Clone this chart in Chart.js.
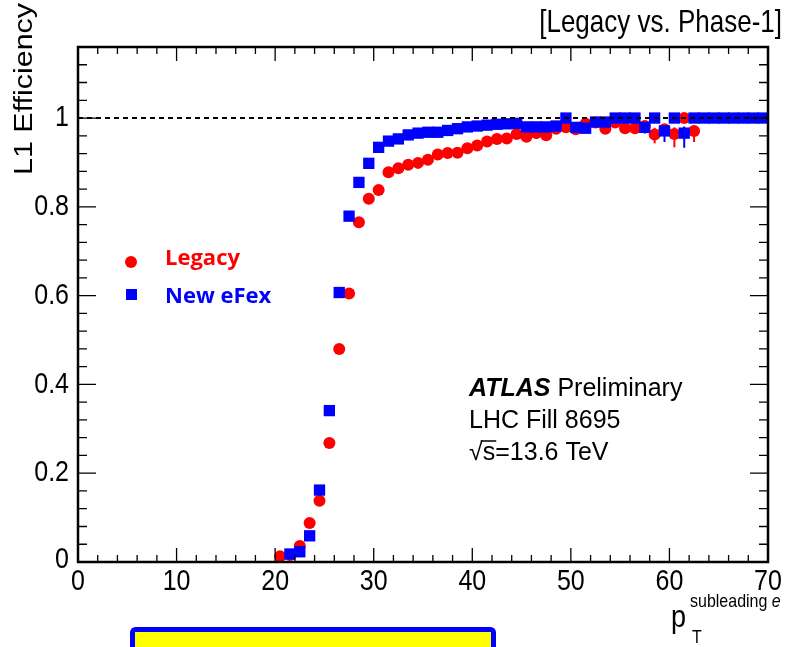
<!DOCTYPE html>
<html><head><meta charset="utf-8">
<script src="https://cdn.jsdelivr.net/npm/chart.js@4/dist/chart.umd.min.js"></script>
<style>html,body{margin:0;padding:0;background:#fff;}#wrap{width:787px;height:647px;}</style>
</head><body><div id="wrap"><canvas id="c" width="787" height="647" style="width:787px;height:647px"></canvas></div>
<script>
// ---- data ----
const legacyX = [20.5,21.5,22.5,23.5,24.5,25.5,26.5,27.5,28.5,29.5,30.5,31.5,32.5,33.5,34.5,35.5,36.5,37.5,38.5,39.5,40.5,41.5,42.5,43.5,44.5,45.5,46.5,47.5,48.5,49.5,50.5,51.5,52.5,53.5,54.5,55.5,56.5,57.5,58.5,59.5,60.5,61.5,62.5];
const legacyY = [0.013,0.016,0.036,0.088,0.138,0.268,0.480,0.605,0.765,0.818,0.838,0.878,0.887,0.895,0.899,0.906,0.918,0.921,0.922,0.932,0.938,0.947,0.953,0.954,0.964,0.958,0.966,0.961,0.976,0.979,0.975,0.987,0.990,0.976,0.990,0.977,0.977,0.982,0.963,0.975,0.964,1.000,0.971];
const legacyErrLo = [0,0,0,0,0,0,0,0,0,0,0,0,0,0,0,0,0,0,0,0,0,0,0,0,0,0,0,0,0,0,0,0,0,0,0,0,0,0,0.020,0,0.030,0,0.025];
const legacyErrHi = [0,0,0,0,0,0,0,0,0,0,0,0,0,0,0,0,0,0,0,0,0,0,0,0,0,0,0,0,0,0,0,0,0,0,0,0,0,0,0.015,0,0.015,0,0.012];
const efexX = [21.5,22.5,23.5,24.5,25.5,26.5,27.5,28.5,29.5,30.5,31.5,32.5,33.5,34.5,35.5,36.5,37.5,38.5,39.5,40.5,41.5,42.5,43.5,44.5,45.5,46.5,47.5,48.5,49.5,50.5,51.5,52.5,53.5,54.5,55.5,56.5,57.5,58.5,59.5,60.5,61.5,62.5,63.5,64.5,65.5,66.5,67.5,68.5,69.5];
const efexY = [0.018,0.023,0.059,0.162,0.341,0.607,0.779,0.855,0.898,0.934,0.948,0.953,0.962,0.966,0.968,0.968,0.972,0.976,0.980,0.982,0.984,0.986,0.987,0.988,0.980,0.980,0.980,0.982,1.000,0.979,0.977,0.991,0.991,1.000,1.000,1.000,0.979,1.000,0.971,1.000,0.966,1.000,1.000,1.000,1.000,1.000,1.000,1.000,1.000];
const efexErrLo = [0,0,0,0,0,0.006,0,0,0,0,0,0,0,0,0,0,0,0,0,0,0,0,0,0,0,0,0,0,0,0,0,0,0,0,0,0,0.014,0,0.025,0,0.033,0,0,0,0,0,0,0,0];
const efexErrHi = [0,0,0,0,0,0.006,0,0,0,0,0,0,0,0,0,0,0,0,0,0,0,0,0,0,0,0,0,0,0,0,0,0,0,0,0,0,0.010,0,0.012,0,0.015,0,0,0,0,0,0,0,0];
const xTickValues = [0,10,20,30,40,50,60,70];
const xTickLabels = ['0','10','20','30','40','50','60','70'];
const yTickValues = [0,0.2,0.4,0.6,0.8,1.0];
const yTickLabels = ['0','0.2','0.4','0.6','0.8','1'];
const seriesNames = ['Legacy','New eFex'];
const refLine = 1.0;

const FONT = '"Liberation Sans", Arial, Helvetica, sans-serif';
const RED = '#ff0000', BLUE = '#0000ff';
const VS = 1.2; // vertical stretch of the axis text in the reference

function pts(xs, ys){ return xs.map((v,i)=>({x:v,y:ys[i]})); }

function stretchText(ctx, txt, x, y, sy){
  ctx.save(); ctx.translate(x,y); ctx.scale(1,sy); ctx.fillText(txt,0,0); ctx.restore();
}

function drawErr(ctx, sx, sy, xs, ys, lo, hi, col){
  ctx.save(); ctx.strokeStyle=col; ctx.lineWidth=2;
  xs.forEach((v,i)=>{
    if(!lo[i] && !hi[i]) return;
    const px=sx.getPixelForValue(v);
    ctx.beginPath();
    ctx.moveTo(px, sy.getPixelForValue(ys[i]-lo[i]));
    ctx.lineTo(px, sy.getPixelForValue(ys[i]+hi[i]));
    ctx.stroke();
  });
  ctx.restore();
}

const deco = {
  id:'deco',
  beforeDatasetsDraw(chart){
    const {ctx, scales:{x,y}} = chart;
    drawErr(ctx,x,y,legacyX,legacyY,legacyErrLo,legacyErrHi,RED);
    drawErr(ctx,x,y,efexX,efexY,efexErrLo,efexErrHi,BLUE);
  },
  afterDatasetsDraw(chart){
    const {ctx, chartArea:a, scales:{x,y}} = chart;
    ctx.save();
    // dashed reference line
    ctx.strokeStyle='#000'; ctx.lineWidth=2; ctx.setLineDash([5,4]);
    const py=y.getPixelForValue(refLine);
    ctx.beginPath(); ctx.moveTo(a.left,py); ctx.lineTo(a.right,py); ctx.stroke();
    ctx.setLineDash([]);
    // ticks
    ctx.lineWidth=1.3;
    ctx.beginPath();
    for(let v=0; v<=70+1e-9; v+=2){
      const px=x.getPixelForValue(v);
      const major = Math.abs(v%10)<1e-9;
      const L = major?14:7;
      ctx.moveTo(px,a.bottom); ctx.lineTo(px,a.bottom-L);
      ctx.moveTo(px,a.top); ctx.lineTo(px,a.top+L);
    }
    for(let k=0; k<=29; k++){
      const v=k*0.04; if(v>1.16) break;
      const p=y.getPixelForValue(v);
      const major = k%5===0;
      const L = major?18:9;
      ctx.moveTo(a.left,p); ctx.lineTo(a.left+L,p);
      ctx.moveTo(a.right,p); ctx.lineTo(a.right-L,p);
    }
    ctx.stroke();
    // frame
    ctx.lineWidth=2.5;
    ctx.strokeRect(a.left,a.top,a.right-a.left,a.bottom-a.top);
    // tick labels
    ctx.fillStyle='#000';
    ctx.font='25px '+FONT;
    ctx.textAlign='center'; ctx.textBaseline='middle';
    xTickValues.forEach((v,i)=>stretchText(ctx, xTickLabels[i], x.getPixelForValue(v), a.bottom+20, VS));
    ctx.textAlign='right';
    yTickValues.forEach((v,i)=>stretchText(ctx, yTickLabels[i], a.left-9, y.getPixelForValue(v)-(v===0?2:0), VS));
    // y title
    ctx.save();
    ctx.translate(25, 3); ctx.rotate(-Math.PI/2); ctx.scale(1.17,1);
    ctx.textAlign='right'; ctx.textBaseline='middle';
    ctx.font='26px '+FONT;
    ctx.fillText('L1 Efficiency',0,0);
    ctx.restore();
    // top right
    ctx.textAlign='right'; ctx.textBaseline='alphabetic'; ctx.font='26px '+FONT;
    stretchText(ctx, '[Legacy vs. Phase-1]', 782, 32, 1.22);
    // x title
    ctx.textAlign='left';
    ctx.font='27px '+FONT; stretchText(ctx, 'p', 671, 627, 1.15);
    ctx.font='16px '+FONT; stretchText(ctx, 'T', 692, 643, 1.15);
    ctx.font='16px '+FONT; stretchText(ctx, 'subleading', 690, 607, 1.2);
    const sw=ctx.measureText('subleading ').width;
    ctx.font='italic 16px '+FONT; stretchText(ctx, 'e', 690+sw, 607, 1.2);
    // ATLAS block
    ctx.font='italic bold 25px '+FONT;
    ctx.fillText('ATLAS', 469, 396);
    const aw=ctx.measureText('ATLAS ').width;
    ctx.font='25px '+FONT;
    ctx.fillText('Preliminary', 469+aw, 396);
    ctx.fillText('LHC Fill 8695', 469, 428);
    const sq='√', rest='s=13.6 TeV';
    ctx.fillText(sq+rest, 469, 460);
    const w1=ctx.measureText(sq).width, w2=ctx.measureText('s').width;
    ctx.lineWidth=1.5; ctx.beginPath();
    ctx.moveTo(469+w1-2, 441); ctx.lineTo(469+w1+w2+1, 441); ctx.stroke();
    // legend
    ctx.fillStyle=RED; ctx.beginPath(); ctx.arc(131,262,6,0,Math.PI*2); ctx.fill();
    ctx.fillStyle=BLUE; ctx.fillRect(126,289,11,11);
    ctx.font='bold 22px "Open Sans", '+FONT; ctx.textBaseline='middle';
    ctx.fillStyle=RED; ctx.fillText(seriesNames[0], 165, 259);
    ctx.fillStyle=BLUE; ctx.fillText(seriesNames[1], 165, 297);
    // yellow box at bottom
    ctx.fillStyle='#ffff00'; ctx.strokeStyle=BLUE; ctx.lineWidth=5;
    ctx.beginPath();
    if(ctx.roundRect) ctx.roundRect(132.5,629.5,361,40,3); else ctx.rect(132.5,629.5,361,40);
    ctx.fill(); ctx.stroke();
    ctx.restore();
  }
};

new Chart(document.getElementById('c'), {
  type:'scatter',
  data:{datasets:[
    {label:seriesNames[1], data:pts(efexX,efexY), pointStyle:'rect', pointRadius:8, pointHoverRadius:8, backgroundColor:BLUE, borderWidth:0, order:0},
    {label:seriesNames[0], data:pts(legacyX,legacyY), pointStyle:'circle', pointRadius:6, pointHoverRadius:6, backgroundColor:RED, borderWidth:0, order:1}
  ]},
  options:{
    responsive:false, animation:false, devicePixelRatio:1,
    layout:{padding:{left:78,right:19,top:47,bottom:85}},
    plugins:{legend:{display:false}, tooltip:{enabled:false}},
    scales:{
      x:{type:'linear', min:0, max:70, display:false},
      y:{type:'linear', min:0, max:1.16, display:false}
    }
  },
  plugins:[deco]
});
</script></body></html>
